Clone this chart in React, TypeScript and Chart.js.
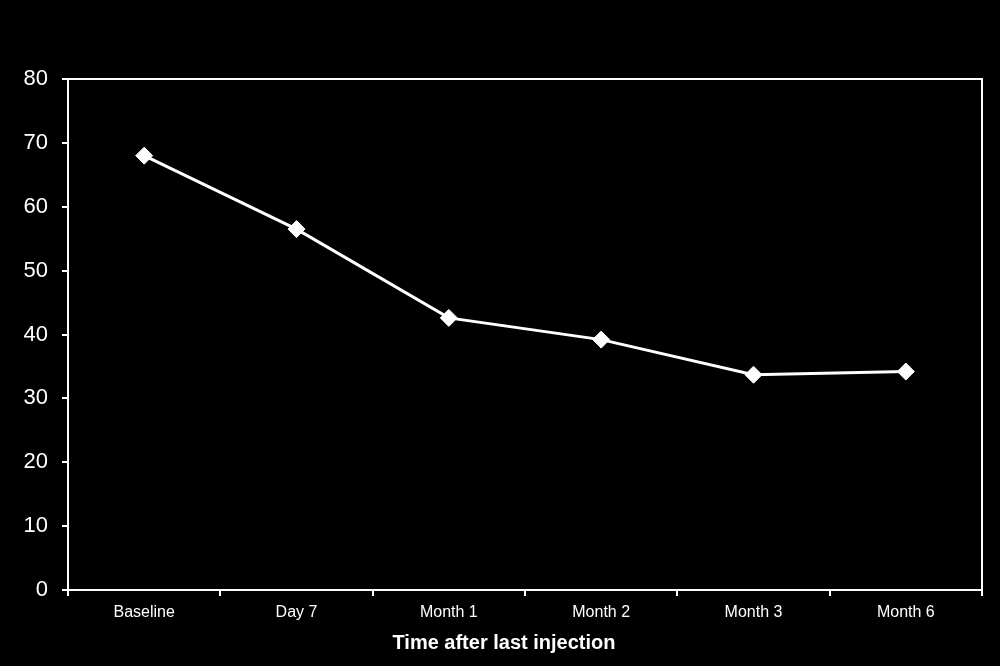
import React, { useEffect, useRef } from "react";
import { Chart, registerables } from "chart.js";

Chart.register(...registerables);

const categories = ["Baseline", "Day 7", "Month 1", "Month 2", "Month 3", "Month 6"];
const values = [68, 56.5, 42.6, 39.2, 33.7, 34.2];
const yTicks = [0, 10, 20, 30, 40, 50, 60, 70, 80];
const xTitle = "Time after last injection";

const frame = {
  id: "frame",
  afterDraw(chart: any) {
    const { ctx, chartArea } = chart;
    ctx.save();
    ctx.strokeStyle = "#ffffff";
    ctx.lineWidth = 2;
    ctx.strokeRect(chartArea.left, chartArea.top, chartArea.right - chartArea.left, chartArea.bottom - chartArea.top);
    // x-axis title (slightly left of plot centre, as in the original)
    ctx.fillStyle = "#ffffff";
    ctx.font = "bold 20px 'Liberation Sans', Arial";
    ctx.textAlign = "center";
    ctx.textBaseline = "middle";
    const cx = chartArea.left + (chartArea.right - chartArea.left) * 0.477;
    ctx.fillText(xTitle, cx, chartArea.bottom + 53);
    ctx.restore();
  },
};

export default function App() {
  const ref = useRef<HTMLCanvasElement>(null);
  useEffect(() => {
    document.body.style.margin = "0";
    document.body.style.background = "#000";
    const chart = new Chart(ref.current!, {
      type: "line",
      data: {
        labels: categories,
        datasets: [
          {
            data: values,
            borderColor: "#ffffff",
            backgroundColor: "#ffffff",
            borderWidth: 3,
            pointStyle: "rectRot",
            pointRadius: 8.5,
            pointBorderWidth: 1,
            pointBackgroundColor: "#ffffff",
            pointBorderColor: "#ffffff",
            tension: 0,
          },
        ],
      },
      options: {
        animation: false,
        responsive: false,
        maintainAspectRatio: false,
        layout: { padding: { left: 0, right: 18, top: 79, bottom: 0 } },
        plugins: { legend: { display: false }, tooltip: { enabled: false } },
        scales: {
          x: {
            offset: true,
            grid: {
              offset: true,
              drawOnChartArea: false,
              drawTicks: true,
              tickLength: 6,
              color: "#ffffff",
              lineWidth: 2,
            },
            border: { display: true, color: "#ffffff", width: 2 },
            ticks: {
              color: "#ffffff",
              padding: 7,
              font: { family: "Liberation Sans, Arial", size: 16 },
            },
            afterFit: (s: any) => {
              s.height = 76;
            },
          },
          y: {
            min: 0,
            max: 80,
            afterBuildTicks: (s: any) => {
              s.ticks = yTicks.map((v) => ({ value: v }));
            },
            grid: {
              drawOnChartArea: false,
              drawTicks: true,
              tickLength: 6,
              color: "#ffffff",
              lineWidth: 2,
            },
            border: { display: true, color: "#ffffff", width: 2 },
            ticks: {
              color: "#ffffff",
              padding: 14,
              font: { family: "Liberation Sans, Arial", size: 22 },
            },
            afterFit: (s: any) => {
              s.width = 68;
            },
          },
        },
      },
      plugins: [frame],
    });
    return () => chart.destroy();
  }, []);
  return (
    <div style={{ width: 1000, height: 666, background: "#000" }}>
      <canvas ref={ref} width={1000} height={666} style={{ display: "block" }} />
    </div>
  );
}
